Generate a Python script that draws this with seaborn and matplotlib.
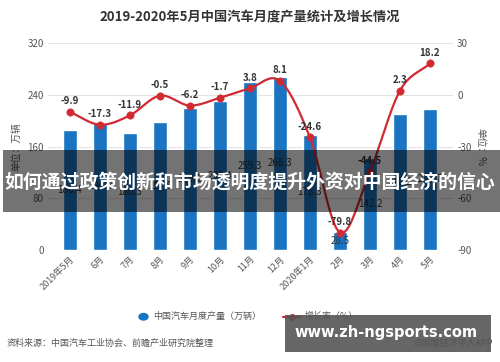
import numpy as np
import pandas as pd
import matplotlib
matplotlib.use("Agg")
import matplotlib.pyplot as plt
import seaborn as sns
from matplotlib.patches import Rectangle

months = ["2019年5月", "6月", "7月", "8月", "9月", "10月", "11月", "12月",
          "2020年1月", "2月", "3月", "4月", "5月"]
production = [186.4, 196.9, 180.3, 197.9, 219.1, 230.4, 259.3, 268.3,
              178.3, 28.5, 142.2, 210.2, 218.7]
growth = [-9.9, -17.3, -11.9, -0.5, -6.2, -1.7, 3.8, 8.1,
          -24.6, -79.8, -44.5, 2.3, 18.2]
left_ticks = [0, 80, 160, 240, 320]
right_ticks = [-90, -60, -30, 0, 30]

sns.set_theme(style="white")
plt.rcParams['font.family'] = ['Noto Sans CJK SC', 'DejaVu Sans']

BLUE = "#1a74c2"
RED = "#d12a33"
GRID = "#e3e3e3"
TXT = "#555555"

df = pd.DataFrame({"month": months, "production": production, "growth": growth})

fig = plt.figure(figsize=(5.0, 3.62), dpi=100)
ax = fig.add_axes([0.096, 0.309, 0.81, 0.572])
sns.barplot(data=df, x="month", y="production", color=BLUE, width=0.47,
            saturation=1, ax=ax, zorder=2)
ax.set_ylim(0, 320)
ax.set_xlim(-0.73, 12.77)
ax.set_yticks(left_ticks)
ax.set_yticklabels([str(t) for t in left_ticks], fontsize=7, color=TXT)
for t in left_ticks:
    ax.axhline(t, color=GRID, lw=0.8, zorder=0)
ax.set_xlabel("")
ax.set_ylabel("单位：万辆", fontsize=7, color=TXT, labelpad=4)
ax.set_xticks(range(len(months)))
ax.set_xticklabels(months, rotation=45, ha="right", rotation_mode="anchor",
                   fontsize=6.5, color=TXT)
ax.tick_params(axis="both", length=0, pad=3)
for s in ax.spines.values():
    s.set_visible(False)
for i, v in enumerate(production):
    ax.text(i, v / 2, f"{v}", ha="center", va="center", fontsize=7,
            color="#333333", zorder=5)

ax2 = ax.twinx()
ax2.set_ylim(-90, 30)
ax2.set_yticks(right_ticks)
ax2.set_yticklabels([str(t) for t in right_ticks], fontsize=7, color=TXT)
ax2.tick_params(axis="y", length=0, pad=3)
for s in ax2.spines.values():
    s.set_visible(False)
ax2.set_ylabel("单位：%", fontsize=7, color=TXT, rotation=-90, labelpad=10)
ax2.grid(False)

# smooth curve (Catmull-Rom) through the data points
xs = np.arange(len(growth), dtype=float)
ys = np.array(growth, dtype=float)
px = np.concatenate([[2 * xs[0] - xs[1]], xs, [2 * xs[-1] - xs[-2]]])
py = np.concatenate([[2 * ys[0] - ys[1]], ys, [2 * ys[-1] - ys[-2]]])
cx, cy = [], []
t = np.linspace(0, 1, 20)
for i in range(1, len(px) - 2):
    p0, p1, p2, p3 = (np.array([px[j], py[j]]) for j in range(i - 1, i + 3))
    for tt in t:
        pt = 0.5 * ((2 * p1) + (-p0 + p2) * tt + (2 * p0 - 5 * p1 + 4 * p2 - p3) * tt ** 2
                    + (-p0 + 3 * p1 - 3 * p2 + p3) * tt ** 3)
        cx.append(pt[0]); cy.append(pt[1])
ax2.plot(cx, cy, color=RED, lw=1.6, zorder=4)
sns.scatterplot(x=xs, y=ys, color=RED, s=28, edgecolor=RED, ax=ax2, zorder=5, legend=False)
for i, v in enumerate(growth):
    ax2.text(i, v + 3.2, f"{v}", ha="center", va="bottom", fontsize=7,
             color="#333333", fontweight="bold", zorder=6)

fig.text(0.5, 0.952, "2019-2020年5月中国汽车月度产量统计及增长情况", ha="center",
         va="center", fontsize=9.5, fontweight="bold", color="#333333")

# legend
fig.patches.append(matplotlib.patches.Circle((0.287, 0.125), 0.009, transform=fig.transFigure,
                                              color=BLUE, figure=fig))
fig.text(0.306, 0.125, "中国汽车月度产量（万辆）", fontsize=6.5, color=TXT, va="center")
fig.lines.append(matplotlib.lines.Line2D([0.566, 0.602], [0.125, 0.125], transform=fig.transFigure,
                                         color=RED, lw=1.5, figure=fig))
fig.lines.append(matplotlib.lines.Line2D([0.584], [0.125], transform=fig.transFigure,
                                         color=RED, marker="o", markersize=4, figure=fig))
fig.text(0.61, 0.125, "增长率（%）", fontsize=6.5, color=TXT, va="center")

fig.text(0.014, 0.052, "资料来源：中国汽车工业协会、前瞻产业研究院整理", fontsize=6.5,
         color=TXT, va="center")
fig.text(0.985, 0.052, "@前瞻经济学人APP", fontsize=6.5, color=TXT, va="center", ha="right")

# overlay banner
fig.patches.append(Rectangle((0.006, 1 - 212 / 362), 0.994, 62 / 362, transform=fig.transFigure,
                             facecolor="#000000", alpha=0.55, edgecolor="none", figure=fig,
                             zorder=10))
fig.text(0.5, 1 - 182 / 362, "如何通过政策创新和市场透明度提升外资对中国经济的信心",
         ha="center", va="center", fontsize=13.6, fontweight="bold", color="white", zorder=11)

# watermark box
fig.patches.append(Rectangle((285 / 500, 1 - 352 / 362), 206 / 500, 37 / 362,
                             transform=fig.transFigure, facecolor="#555555", alpha=0.9,
                             edgecolor="none", figure=fig, zorder=10))
fig.text(386 / 500, 1 - 333 / 362, "www.zh-ngsports.com", ha="center", va="center",
         fontsize=10.5, fontweight="bold", color="white", family="DejaVu Sans", zorder=11)

fig.savefig("out.png", dpi=100, facecolor="white")
